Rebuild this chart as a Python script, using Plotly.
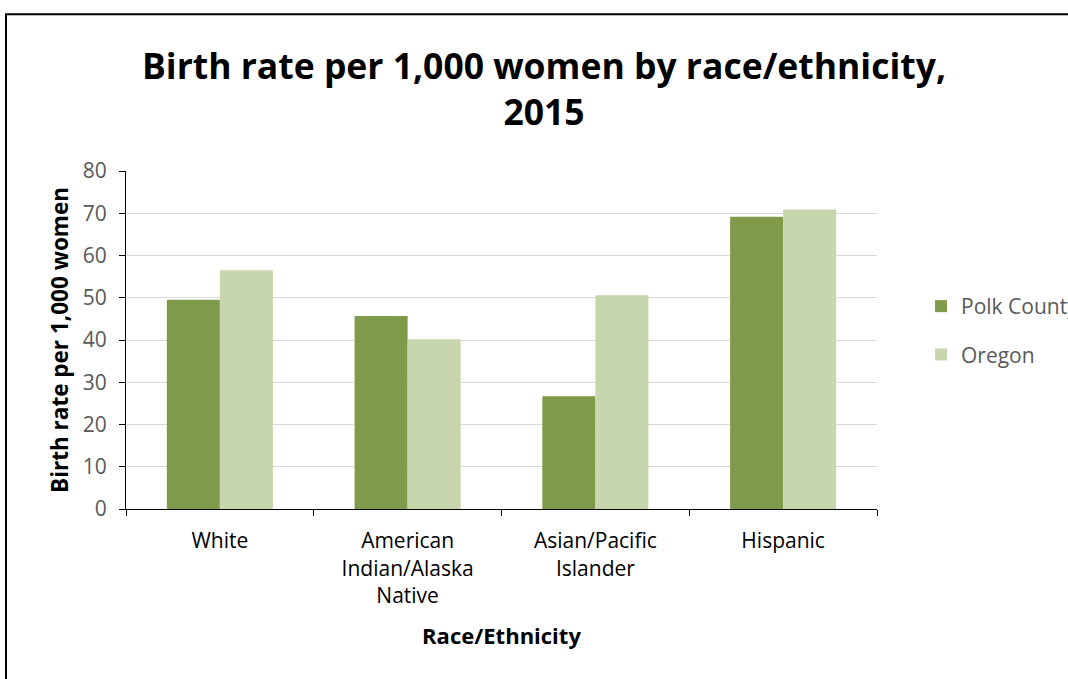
import plotly.graph_objects as go

categories = ["White", "American<br>Indian/Alaska<br>Native", "Asian/Pacific<br>Islander", "Hispanic"]
polk_county = [49.5, 45.7, 26.7, 69.2]
oregon = [56.5, 40.2, 50.6, 70.9]
y_ticks = [0, 10, 20, 30, 40, 50, 60, 70, 80]

title_text = "Birth rate per 1,000 women by race/ethnicity,<br>2015"
y_title = "Birth rate per 1,000 women"
x_title = "Race/Ethnicity"

FONT = "Open Sans"
W, H = 1068, 679
L, R, T, B = 126, 1068 - 877, 171, 679 - 509
pw, ph = W - L - R, H - T - B

fig = go.Figure()
fig.add_trace(go.Bar(x=categories, y=polk_county, name="Polk County",
                     marker=dict(color="#809A4B", line=dict(width=0)),
                     legendgroup="a"))
fig.add_trace(go.Bar(x=categories, y=oregon, name="Oregon",
                     marker=dict(color="#C7D6AD", line=dict(width=0)),
                     legendgroup="b"))

def px_x(p):
    return (p - L) / pw

def px_y(p):
    return (H - B - p) / ph

fig.update_layout(
    width=W, height=H,
    margin=dict(l=L, r=R, t=T, b=B, autoexpand=False),
    paper_bgcolor="white", plot_bgcolor="white",
    barmode="group", bargap=0.435, bargroupgap=0,
    font=dict(family=FONT, color="#595959", size=21),
    title=dict(text=title_text, x=544 / W, xanchor="center",
               y=1 - 78.5 / H, yanchor="middle",
               font=dict(family=FONT, size=35.5, color="black", weight="bold")),
    legend=dict(x=px_x(921), y=px_y(286), xanchor="left", yanchor="top",
                traceorder="grouped", tracegroupgap=18,
                font=dict(family=FONT, size=21, color="#595959"),
                bgcolor="rgba(0,0,0,0)", itemwidth=30),
    showlegend=True,
    shapes=[dict(type="line", xref="paper", yref="paper",
                 x0=px_x(6), x1=px_x(6), y0=px_y(14.3), y1=px_y(700),
                 line=dict(color="black", width=2)),
            dict(type="line", xref="paper", yref="paper",
                 x0=px_x(5), x1=px_x(1080), y0=px_y(14.3), y1=px_y(14.3),
                 line=dict(color="black", width=2))],
)

fig.update_yaxes(range=[0, 80], tickvals=y_ticks, showgrid=True,
                 gridcolor="#D9D9D9", gridwidth=1,
                 showline=True, linecolor="black", linewidth=1,
                 ticks="outside", ticklen=6, tickcolor="black",
                 ticklabelstandoff=8, zeroline=False,
                 tickfont=dict(family=FONT, size=21, color="#595959"),
                 title=dict(text=y_title, standoff=7,
                            font=dict(family=FONT, size=22.5, color="black", weight="bold")))
fig.update_xaxes(showline=True, linecolor="black", linewidth=1,
                 ticks="outside", ticklen=6, tickcolor="black",
                 tickson="boundaries", ticklabelstandoff=13,
                 tickfont=dict(family=FONT, size=21, color="black"),
                 title=dict(text=x_title, standoff=20,
                            font=dict(family=FONT, size=22, color="black", weight="bold")))

fig.write_html("out.html", config={"displayModeBar": False},
               post_script="document.body.style.margin='0';")
